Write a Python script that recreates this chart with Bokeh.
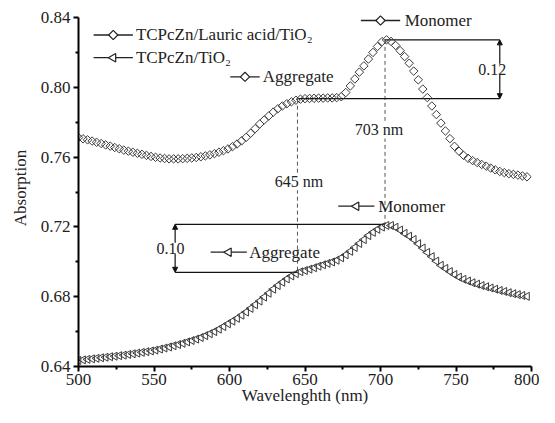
from bokeh.plotting import figure
from bokeh.models import Range1d, Label, Arrow, NormalHead, FixedTicker, NumeralTickFormatter
from bokeh.core.properties import value
from bokeh.embed import file_html
from bokeh.resources import INLINE

# ---------------- data ----------------
wavelength = list(range(500, 800, 3))  # nm, 100 samples

lauric_tio2 = [
    0.7712, 0.7705, 0.7699, 0.7692, 0.7685, 0.7678, 0.7670, 0.7663, 0.7655, 0.7648,
    0.7640, 0.7634, 0.7628, 0.7622, 0.7616, 0.7610, 0.7604, 0.7599, 0.7595, 0.7592,
    0.7590, 0.7590, 0.7590, 0.7591, 0.7593, 0.7595, 0.7598, 0.7602, 0.7607, 0.7613,
    0.7620, 0.7628, 0.7637, 0.7647, 0.7660, 0.7675, 0.7693, 0.7713, 0.7737, 0.7763,
    0.7790, 0.7813, 0.7836, 0.7858, 0.7877, 0.7893, 0.7906, 0.7917, 0.7926, 0.7932,
    0.7935, 0.7936, 0.7937, 0.7938, 0.7938, 0.7939, 0.7939, 0.7941, 0.7946, 0.7970,
    0.8008, 0.8048, 0.8087, 0.8123, 0.8162, 0.8200, 0.8234, 0.8262, 0.8272, 0.8263,
    0.8240, 0.8210, 0.8176, 0.8138, 0.8093, 0.8043, 0.7990, 0.7941, 0.7893, 0.7844,
    0.7795, 0.7750, 0.7706, 0.7662, 0.7634, 0.7610, 0.7593, 0.7580, 0.7569, 0.7558,
    0.7548, 0.7537, 0.7527, 0.7518, 0.7511, 0.7505, 0.7501, 0.7497, 0.7492, 0.7487,
]

plain_tio2 = [
    0.6435, 0.6438, 0.6441, 0.6444, 0.6447, 0.6450, 0.6453, 0.6456, 0.6459, 0.6462,
    0.6465, 0.6469, 0.6473, 0.6477, 0.6481, 0.6485, 0.6489, 0.6494, 0.6500, 0.6506,
    0.6512, 0.6519, 0.6526, 0.6533, 0.6541, 0.6549, 0.6557, 0.6566, 0.6577, 0.6588,
    0.6600, 0.6614, 0.6629, 0.6645, 0.6660, 0.6676, 0.6694, 0.6712, 0.6733, 0.6754,
    0.6775, 0.6798, 0.6820, 0.6843, 0.6864, 0.6883, 0.6902, 0.6919, 0.6932, 0.6943,
    0.6950, 0.6958, 0.6966, 0.6975, 0.6983, 0.6991, 0.6999, 0.7009, 0.7023, 0.7040,
    0.7060, 0.7082, 0.7105, 0.7127, 0.7150, 0.7169, 0.7186, 0.7199, 0.7208, 0.7208,
    0.7198, 0.7182, 0.7163, 0.7147, 0.7128, 0.7104, 0.7079, 0.7054, 0.7030, 0.7004,
    0.6980, 0.6962, 0.6944, 0.6927, 0.6912, 0.6900, 0.6890, 0.6880, 0.6872, 0.6864,
    0.6857, 0.6850, 0.6843, 0.6836, 0.6830, 0.6823, 0.6817, 0.6812, 0.6807, 0.6802,
]

series_names = ["TCPcZn/Lauric acid/TiO\u2082", "TCPcZn/TiO\u2082"]
x_title = "Wavelenghth (nm)"
y_title = "Absorption"

# key features
upper_mono_wl, upper_mono_abs = 703, 0.8272
upper_aggr_wl, upper_aggr_abs = 645, 0.7935
lower_mono_abs = 0.7215
lower_aggr_abs = 0.6940
upper_ratio = "0.12"
lower_ratio = "0.10"

x_major = [500, 550, 600, 650, 700, 750, 800]
x_minor = [525, 575, 625, 675, 725, 775]
y_major = [0.64, 0.68, 0.72, 0.76, 0.80, 0.84]
y_minor = [0.66, 0.70, 0.74, 0.78, 0.82]

# ---------------- figure ----------------
FONT = "Liberation Serif"
INK = "#222222"
MK = "#3a3a3a"

# a little head-room above 0.84 so the top annotation text is not clipped;
# the y axis line itself is bounded to 0.64-0.84
p = figure(width=539, height=407, output_backend="svg", toolbar_location=None,
           x_range=Range1d(500, 800), y_range=Range1d(0.64, 0.8446),
           min_border_left=78, min_border_right=8, min_border_top=9, min_border_bottom=38)
p.grid.visible = False
p.outline_line_color = None
p.background_fill_color = "white"
p.border_fill_color = "white"

for ax in (p.xaxis[0], p.yaxis[0]):
    ax.axis_line_width = 2
    ax.axis_line_color = "black"
    ax.major_tick_line_width = 2
    ax.major_tick_line_color = "black"
    ax.minor_tick_line_width = 2
    ax.minor_tick_line_color = "black"
    ax.major_tick_out = 5
    ax.major_tick_in = 0
    ax.minor_tick_out = 3
    ax.minor_tick_in = 0
    ax.major_label_text_font = FONT
    ax.major_label_text_font_size = "17px"
    ax.major_label_text_color = INK
    ax.axis_label_text_font = FONT
    ax.axis_label_text_font_size = "17px"
    ax.axis_label_text_font_style = "normal"
    ax.axis_label_text_color = INK

p.yaxis.bounds = (0.64, 0.84)
p.xaxis.ticker = FixedTicker(ticks=x_major, minor_ticks=x_minor)
p.yaxis.ticker = FixedTicker(ticks=y_major, minor_ticks=y_minor)
p.yaxis.formatter = NumeralTickFormatter(format="0.00")
p.xaxis.axis_label = x_title
p.yaxis.axis_label = y_title
p.xaxis.major_label_standoff = 2
p.xaxis.axis_label_standoff = -2
p.yaxis.major_label_standoff = 3
p.yaxis.axis_label_standoff = 8

# ---------------- guide lines ----------------
dash = dict(line_color="#555555", line_width=1, line_dash="4 3")
p.segment(x0=[upper_mono_wl], y0=[upper_mono_abs], x1=[upper_mono_wl], y1=[lower_mono_abs], **dash)
p.segment(x0=[upper_aggr_wl], y0=[upper_aggr_abs], x1=[upper_aggr_wl], y1=[lower_aggr_abs], **dash)

br = dict(line_color="#111111", line_width=1.3)
p.segment(x0=[upper_mono_wl, upper_aggr_wl], y0=[upper_mono_abs, upper_aggr_abs],
          x1=[779, 779], y1=[upper_mono_abs, upper_aggr_abs], **br)
p.segment(x0=[564, 564], y0=[lower_mono_abs, lower_aggr_abs],
          x1=[upper_mono_wl, upper_aggr_wl], y1=[lower_mono_abs, lower_aggr_abs], **br)

for xb, ya, yb in ((779, upper_aggr_abs, upper_mono_abs), (564, lower_aggr_abs, lower_mono_abs)):
    p.add_layout(Arrow(x_start=xb, y_start=(ya + yb) / 2, x_end=xb, y_end=yb,
                       line_color="#111111", line_width=1.2,
                       end=NormalHead(size=5, fill_color="#111111", line_color="#111111")))
    p.add_layout(Arrow(x_start=xb, y_start=(ya + yb) / 2, x_end=xb, y_end=ya,
                       line_color="#111111", line_width=1.2,
                       end=NormalHead(size=5, fill_color="#111111", line_color="#111111")))

# ---------------- series ----------------
p.scatter(wavelength, lauric_tio2, marker="square", angle=45, angle_units="deg", size=6,
          fill_color=None, line_color=MK, line_width=1)
p.scatter(wavelength, plain_tio2, marker="triangle", angle=90, angle_units="deg", size=8,
          fill_color=None, line_color=MK, line_width=1)

# ---------------- labels ----------------
def lab(x, y, text, align="center", size="16px", bg="white"):
    p.add_layout(Label(x=x, y=y, text=text, text_align=align, text_baseline="middle",
                       text_font=FONT, text_font_size=size, text_color=INK,
                       background_fill_color=bg))

lab(774, 0.8103, upper_ratio)
lab(561, 0.7078, lower_ratio)
lab(699, 0.7756, "703 nm")
lab(646, 0.7459, "645 nm")

# legend-style keys drawn as annotation marks
def key(x0, x1, y, marker, text, tx):
    p.segment(x0=[x0], y0=[y], x1=[x1], y1=[y], line_color="#222222", line_width=1.3)
    if marker == "diamond":
        p.scatter([(x0 + x1) / 2], [y], marker="square", angle=45, angle_units="deg", size=6.5,
                  fill_color="white", line_color="#222222", line_width=1.2)
    else:
        p.scatter([(x0 + x1) / 2], [y], marker="triangle", angle=90, angle_units="deg", size=8.5,
                  fill_color="white", line_color="#222222", line_width=1.2)
    lab(tx, y, text, align="left", size="17px", bg=None)

key(510, 536, 0.8300, "diamond", series_names[0], 538)
key(510, 536, 0.8170, "triangle", series_names[1], 538)
key(687, 713, 0.8383, "diamond", "Monomer", 716)
key(600.5, 620, 0.8060, "diamond", "Aggregate", 622)
key(672, 696, 0.7319, "triangle", "Monomer", 698.5)
key(587.5, 611.5, 0.7055, "triangle", "Aggregate", 613)

open("out.html", "w").write(file_html(p, INLINE))
